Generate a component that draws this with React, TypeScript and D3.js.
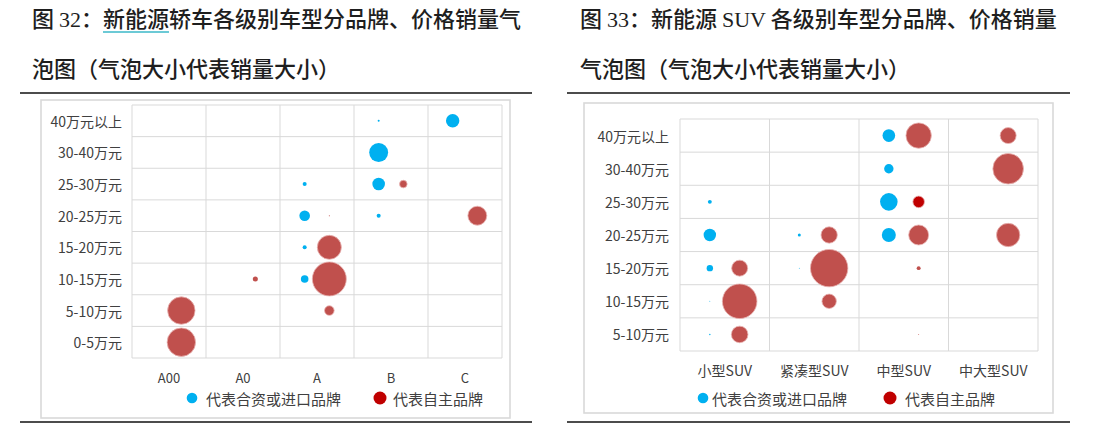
import React, { useEffect, useRef } from 'react';
import * as d3 from 'd3';

// sedan chart (图 32)
const sedanClasses = ['A00', 'A0', 'A', 'B', 'C'];
const sedanPrices = ['40万元以上', '30-40万元', '25-30万元', '20-25万元', '15-20万元', '10-15万元', '5-10万元', '0-5万元'];
// estimated sales (relative units), rows = price band, cols = class
const sedanForeign = [
  [0, 0, 0, 0.35, 15.5],
  [0, 0, 0, 31, 0],
  [0, 0, 1.4, 13.7, 0],
  [0, 0, 9.7, 1.4, 0],
  [0, 0, 1.4, 0, 0],
  [0, 0, 5, 0, 0],
  [0, 0, 0, 0, 0],
  [0, 0, 0, 0, 0],
];
const sedanDomestic = [
  [0, 0, 0, 0, 0],
  [0, 0, 0, 0, 0],
  [0, 0, 0, 5, 0],
  [0, 0, 0.1, 0, 31],
  [0, 0, 50, 0, 0],
  [0, 2.2, 100, 0, 0],
  [65, 0, 8, 0, 0],
  [70, 0, 0, 0, 0],
];

// SUV chart (图 33)
const suvClasses = ['小型SUV', '紧凑型SUV', '中型SUV', '中大型SUV'];
const suvPrices = ['40万元以上', '30-40万元', '25-30万元', '20-25万元', '15-20万元', '10-15万元', '5-10万元'];
const suvForeign = [
  [0, 0, 11.4, 0],
  [0, 0, 6.3, 0],
  [1.1, 0, 22, 0],
  [11, 0.65, 14, 0],
  [2.9, 0.07, 0, 0],
  [0.07, 0, 0, 0],
  [0.14, 0, 0, 0],
];
const suvDomestic = [
  [0, 0, 46, 18.3],
  [0, 0, 0, 67],
  [0, 0, 9.6, 0],
  [0, 19, 28.6, 39],
  [18.3, 100, 1.1, 0],
  [85.6, 14.8, 0, 0],
  [19.7, 0, 0.07, 0],
];
// one bubble in the SUV chart is drawn in a darker red
const suvDarkCells = ['2-2'];

const legendLabels = ['代表合资或进口品牌', '代表自主品牌'];

const BLUE = '#00B0F0';
const RED = '#C0504D';
const DARK_RED = '#C00000';
const GRID = '#d9d9d9';
const LABEL = '#404040';
const CJK = '"Noto Sans CJK SC", "Noto Sans", sans-serif';

interface Panel {
  classes: string[];
  prices: string[];
  foreign: number[][];
  domestic: number[][];
  dark: string[];
  box: { x: number; y: number; w: number; h: number };
  plot: { x0: number; x1: number; y0: number; y1: number };
  maxR: number;
  yLabelX: number;
  xLabelY: number;
  xLabelSize: number;
  legendY: number;
  legendX: [number, number, number, number]; // blue dot, blue text, red dot, red text
}

const App = () => {
  const ref = useRef<SVGSVGElement>(null);

  useEffect(() => {
    const svg = d3.select(ref.current);
    svg.selectAll('*').remove();

    // titles + rules
    const drawTitle = (x: number, parts1: [string, boolean][], line2: string, ruleX: [number, number], underline?: number) => {
      const t = svg.append('text')
        .attr('x', x).attr('y', 27)
        .attr('font-size', 22).attr('font-weight', 500)
        .attr('fill', '#1e1e1e').attr('font-family', CJK);
      parts1.forEach(([s, serif]) => {
        t.append('tspan')
          .attr('font-family', serif ? '"Liberation Serif", serif' : CJK)
          .text(s);
      });
      if (underline !== undefined) {
        const node = t.node() as SVGTextElement;
        const start = node.getSubStringLength(0, underline);
        const w = node.getSubStringLength(underline, 3);
        svg.append('line')
          .attr('x1', x + start).attr('x2', x + start + w)
          .attr('y1', 32).attr('y2', 32)
          .attr('stroke', '#3bb8c8').attr('stroke-width', 1.5);
      }
      svg.append('text')
        .attr('x', x).attr('y', 77)
        .attr('font-size', 22).attr('font-weight', 500)
        .attr('fill', '#1e1e1e').attr('font-family', CJK)
        .text(line2);
      [93, 422].forEach(y => {
        svg.append('line')
          .attr('x1', ruleX[0]).attr('x2', ruleX[1])
          .attr('y1', y).attr('y2', y)
          .attr('stroke', '#111').attr('stroke-width', 1.6);
      });
    };

    drawTitle(32, [['图 ', false], ['32', true], ['：新能源轿车各级别车型分品牌、价格销量气', false]],
      '泡图（气泡大小代表销量大小）', [20, 532], 5);
    drawTitle(580, [['图 ', false], ['33', true], ['：新能源 ', false], ['SUV', true], [' 各级别车型分品牌、价格销量', false]],
      '气泡图（气泡大小代表销量大小）', [567, 1070]);

    const drawPanel = (p: Panel) => {
      const g = svg.append('g');
      g.append('rect')
        .attr('x', p.box.x).attr('y', p.box.y)
        .attr('width', p.box.w).attr('height', p.box.h)
        .attr('fill', '#fff').attr('stroke', GRID).attr('stroke-width', 1.6);

      const x = d3.scaleLinear().domain([0, p.classes.length]).range([p.plot.x0, p.plot.x1]);
      const y = d3.scaleLinear().domain([0, p.prices.length]).range([p.plot.y0, p.plot.y1]);
      const r = d3.scaleSqrt().domain([0, 100]).range([0, p.maxR]);

      // grid
      g.selectAll('.vline').data(d3.range(p.classes.length + 1)).enter().append('line')
        .attr('x1', d => x(d)).attr('x2', d => x(d))
        .attr('y1', p.plot.y0).attr('y2', p.plot.y1)
        .attr('stroke', GRID).attr('stroke-width', 1);
      g.selectAll('.hline').data(d3.range(p.prices.length + 1)).enter().append('line')
        .attr('y1', d => y(d)).attr('y2', d => y(d))
        .attr('x1', p.plot.x0).attr('x2', p.plot.x1)
        .attr('stroke', GRID).attr('stroke-width', 1);

      // y labels
      g.selectAll('.ylab').data(p.prices).enter().append('text')
        .attr('x', p.yLabelX).attr('y', (_, i) => y(i + 0.5))
        .attr('text-anchor', 'end').attr('dominant-baseline', 'central')
        .attr('font-size', 14).attr('fill', LABEL).attr('font-family', CJK)
        .text(d => d);

      // x labels
      g.selectAll('.xlab').data(p.classes).enter().append('text')
        .attr('x', (_, i) => x(i + 0.5)).attr('y', p.xLabelY)
        .attr('text-anchor', 'middle').attr('dominant-baseline', 'central')
        .attr('font-size', p.xLabelSize).attr('fill', LABEL).attr('font-family', CJK)
        .text(d => d);

      // bubbles
      type B = { row: number; col: number; v: number; kind: 'f' | 'd' };
      const bubbles: B[] = [];
      p.foreign.forEach((row, i) => row.forEach((v, j) => { if (v > 0) bubbles.push({ row: i, col: j, v, kind: 'f' }); }));
      p.domestic.forEach((row, i) => row.forEach((v, j) => { if (v > 0) bubbles.push({ row: i, col: j, v, kind: 'd' }); }));

      g.selectAll('.bubble').data(bubbles).enter().append('circle')
        .attr('cx', d => x(d.col + (d.kind === 'f' ? 1 / 3 : 2 / 3)))
        .attr('cy', d => y(d.row + 0.5))
        .attr('r', d => r(d.v))
        .attr('fill', d => d.kind === 'f' ? BLUE
          : p.dark.includes(`${d.row}-${d.col}`) ? DARK_RED : RED)
        .attr('stroke', d => d.kind === 'f' ? 'none' : '#e8b4b2')
        .attr('stroke-width', d => r(d.v) > 3 ? 0.8 : 0);

      // legend
      const [bx, btx, rx, rtx] = p.legendX;
      g.append('circle').attr('cx', bx).attr('cy', p.legendY).attr('r', 5.3).attr('fill', BLUE);
      g.append('circle').attr('cx', rx).attr('cy', p.legendY).attr('r', 6.5).attr('fill', DARK_RED);
      [[btx, legendLabels[0]], [rtx, legendLabels[1]]].forEach(([lx, s]) => {
        g.append('text')
          .attr('x', lx as number).attr('y', p.legendY)
          .attr('dominant-baseline', 'central')
          .attr('font-size', 15).attr('fill', LABEL).attr('font-family', CJK)
          .text(s as string);
      });
    };

    drawPanel({
      classes: sedanClasses, prices: sedanPrices,
      foreign: sedanForeign, domestic: sedanDomestic, dark: [],
      box: { x: 41, y: 100, w: 469, h: 318 },
      plot: { x0: 132, x1: 502, y0: 105, y1: 358 },
      maxR: 17,
      yLabelX: 122, xLabelY: 377, xLabelSize: 13,
      legendY: 398, legendX: [192, 206, 380, 393],
    });

    drawPanel({
      classes: suvClasses, prices: suvPrices,
      foreign: suvForeign, domestic: suvDomestic, dark: suvDarkCells,
      box: { x: 584, y: 103, w: 469, h: 310 },
      plot: { x0: 680, x1: 1038, y0: 119, y1: 351 },
      maxR: 18.7,
      yLabelX: 669, xLabelY: 370, xLabelSize: 14,
      legendY: 398, legendX: [703, 712, 890, 905],
    });
  }, []);

  return (
    <svg ref={ref} width={1093} height={431}
      style={{ position: 'absolute', left: 0, top: 0, background: '#fff' }} />
  );
};

export default App;
